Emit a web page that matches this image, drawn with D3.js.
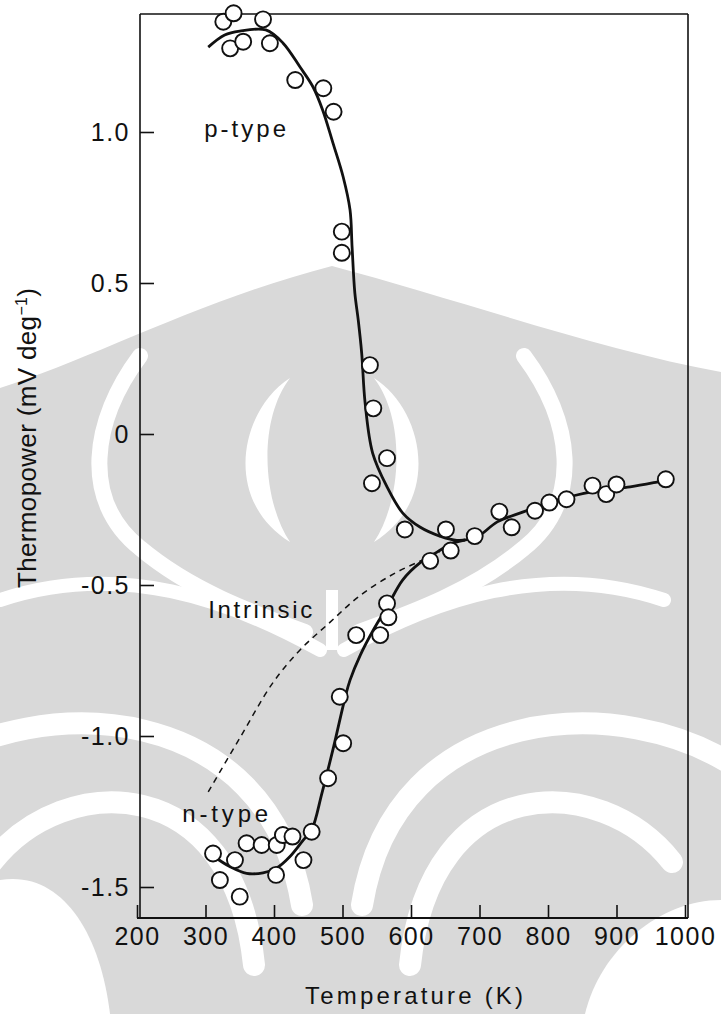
<!DOCTYPE html>
<html>
<head>
<meta charset="utf-8">
<script src="https://cdn.jsdelivr.net/npm/d3@7"></script>
<style>
  html, body { margin: 0; padding: 0; background: #fff; }
  svg { display: block; }
  text { font-family: "Liberation Sans", Arial, sans-serif; fill: #111; }
</style>
</head>
<body>
<svg id="chart" width="721" height="1014"></svg>
<script>
// Thermopower (mV/deg) against temperature (K): measured points and fitted curves.

// Open-circle measurements, [temperature K, thermopower mV/deg]
const pTypePoints = [
  [326, 1.365], [341, 1.393], [384, 1.373], [336, 1.277], [355, 1.299], [394, 1.294],
  [431, 1.172], [472, 1.145], [487, 1.067], [499, 0.670], [499, 0.600], [540, 0.228],
  [545, 0.085], [565, -0.080], [543, -0.163], [591, -0.316], [651, -0.316], [693, -0.338],
  [729, -0.257], [747, -0.309], [781, -0.254], [802, -0.227], [827, -0.216], [865, -0.171],
  [885, -0.199], [900, -0.167], [972, -0.150]
];
const nTypePoints = [
  [658, -0.386], [628, -0.420], [565, -0.561], [567, -0.607], [555, -0.666], [520, -0.666],
  [496, -0.870], [501, -1.024], [479, -1.140], [455, -1.317], [443, -1.411], [403, -1.460],
  [350, -1.532], [321, -1.477], [311, -1.389], [343, -1.411], [360, -1.355], [382, -1.361],
  [404, -1.361], [413, -1.328], [427, -1.333]
];

// Fitted curves
const pTypeFit = [
  [304, 1.281], [328, 1.321], [350, 1.334], [388, 1.338], [413, 1.295], [438, 1.215],
  [457, 1.149], [471, 1.073], [486, 0.964], [501, 0.851], [511, 0.742], [514, 0.619],
  [518, 0.467], [523, 0.377], [528, 0.268], [533, 0.103], [544, -0.063], [565, -0.175],
  [588, -0.262], [613, -0.308], [642, -0.338], [667, -0.352], [696, -0.341], [726, -0.291],
  [764, -0.258], [799, -0.228], [842, -0.202], [880, -0.185], [920, -0.175], [959, -0.159],
  [974, -0.152]
];
const nTypeFit = [
  [309, -1.394], [336, -1.433], [360, -1.455], [384, -1.453], [404, -1.437], [423, -1.400],
  [443, -1.344], [455, -1.311], [470, -1.189], [487, -1.036], [504, -0.871], [511, -0.815],
  [526, -0.732], [545, -0.649], [565, -0.573], [588, -0.483], [613, -0.427], [638, -0.391],
  [661, -0.361], [679, -0.351]
];
const intrinsicFit = [
  [304, -1.185], [350, -1.007], [398, -0.825], [438, -0.715], [482, -0.623],
  [525, -0.536], [574, -0.464], [613, -0.421], [642, -0.391]
];

// Axis ticks
const xTicks = [200, 300, 400, 500, 600, 700, 800, 900, 1000];
const yTicks = [1.0, 0.5, 0, -0.5, -1.0, -1.5];
const yTickLabels = ["1.0", "0.5", "0", "-0.5", "-1.0", "-1.5"];

const svg = d3.select("#chart");
const W = 721, H = 1014;

// Faint grey emblem printed behind the figure
function drawBackdrop(g) {
  const grey = "#d9d9d9";
  const cx = 332;                       // emblem axis of symmetry
  const mirror = s => s.replace(/(-?\d+(?:\.\d+)?),(-?\d+(?:\.\d+)?)/g,
    (m, a, b) => `${2 * cx - (+a)},${b}`);

  // dome-shaped grey body reaching the bottom edge
  g.append("path")
    .attr("d", `M0,388 C90,360 200,300 ${cx},266 C460,300 600,350 ${W},372 L${W},${H} L0,${H} Z`)
    .attr("fill", grey);

  const band = (d, w) => g.append("path").attr("d", d).attr("fill", "none")
    .attr("stroke", "#fff").attr("stroke-width", w).attr("stroke-linecap", "round");

  // outer arcs of the upper body
  const outerArc = "M140,356 C92,420 80,500 140,548 C190,590 250,612 305,632";
  band(outerArc, 16);
  band(mirror(outerArc), 16);

  // inner crescents
  const crescent = "M290,378 C240,410 222,500 290,542 C262,500 258,420 290,378 Z";
  g.append("path").attr("d", crescent).attr("fill", "#fff");
  g.append("path").attr("d", mirror(crescent)).attr("fill", "#fff");

  // central slit
  g.append("rect").attr("x", cx - 6).attr("y", 590).attr("width", 12).attr("height", 60).attr("fill", "#fff");

  // lower arches on both sides
  const archA = "M362,905 C395,700 625,690 740,770";
  const archB = "M410,965 C430,770 600,770 672,862";
  const archC = "M0,600 C120,560 230,600 320,650";
  [archA, archB].forEach(a => { band(a, 22); band(mirror(a), 22); });
  band(archC, 14);
  band(mirror(archC), 14);

  // lower corners
  g.append("path").attr("d", `M0,880 C60,870 100,930 110,${H} L0,${H} Z`).attr("fill", "#fff");
  g.append("path").attr("d", `M${W},900 C660,900 600,950 585,${H} L${W},${H} Z`).attr("fill", "#fff");
}
drawBackdrop(svg.append("g").attr("class", "backdrop"));

const x = d3.scaleLinear().domain([200, 1000]).range([137, 685]);
const y = d3.scaleLinear().domain([1.0, -1.5]).range([132, 887]);

const frame = { left: 140, right: 688, top: 14, bottom: 918 };

// Frame
const fg = svg.append("g").attr("stroke", "#111").attr("stroke-width", 1.6).attr("fill", "none");
fg.append("line").attr("x1", frame.left).attr("x2", frame.right).attr("y1", frame.top).attr("y2", frame.top);
fg.append("line").attr("x1", frame.right).attr("x2", frame.right).attr("y1", frame.top).attr("y2", frame.bottom);
fg.append("line").attr("x1", frame.left).attr("x2", frame.left).attr("y1", frame.top).attr("y2", frame.bottom);
fg.append("line").attr("x1", x(200)).attr("x2", frame.right).attr("y1", frame.bottom).attr("y2", frame.bottom)
  .attr("stroke-width", 2.2);

// Axes with inward ticks
const yAxis = d3.axisLeft(y)
  .tickValues(yTicks)
  .tickFormat((d, i) => yTickLabels[i])
  .tickSizeInner(-14).tickSizeOuter(0).tickPadding(10);
const gy = svg.append("g").attr("transform", `translate(${frame.left},0)`).call(yAxis);
gy.select(".domain").remove();
gy.selectAll(".tick line").attr("stroke", "#111").attr("stroke-width", 1.6);
gy.selectAll(".tick text").attr("font-size", 25).attr("letter-spacing", 1.5)
  .attr("font-family", "Liberation Sans, Arial, sans-serif").attr("fill", "#111");

const xAxis = d3.axisBottom(x)
  .tickValues(xTicks)
  .tickFormat(d3.format("d"))
  .tickSizeInner(-13).tickSizeOuter(0).tickPadding(9);
const gx = svg.append("g").attr("transform", `translate(0,${frame.bottom})`).call(xAxis);
gx.select(".domain").remove();
gx.selectAll(".tick line").attr("stroke", "#111").attr("stroke-width", 1.6);
gx.selectAll(".tick text").attr("font-size", 25).attr("letter-spacing", 1.5)
  .attr("font-family", "Liberation Sans, Arial, sans-serif").attr("fill", "#111");

// Axis titles
svg.append("text")
  .attr("x", 414).attr("y", 1004)
  .attr("text-anchor", "middle")
  .attr("font-size", 24)
  .attr("textLength", 218).attr("lengthAdjust", "spacing")
  .text("Temperature (K)");

const yTitle = svg.append("text")
  .attr("transform", "translate(36,438) rotate(-90)")
  .attr("text-anchor", "middle")
  .attr("font-size", 26)
  .attr("textLength", 300).attr("lengthAdjust", "spacing");
yTitle.append("tspan").text("Thermopower (mV deg");
yTitle.append("tspan").attr("dy", -9).attr("font-size", 16).text("\u22121");
yTitle.append("tspan").attr("dy", 9).text(")");

// Curves
const line = d3.line()
  .x(d => x(d[0]))
  .y(d => y(d[1]))
  .curve(d3.curveCatmullRom.alpha(0.5));

svg.append("path").datum(intrinsicFit)
  .attr("d", line).attr("fill", "none")
  .attr("stroke", "#111").attr("stroke-width", 1.5)
  .attr("stroke-dasharray", "6,5");

svg.append("path").datum(pTypeFit)
  .attr("d", line).attr("fill", "none")
  .attr("stroke", "#111").attr("stroke-width", 2.8);

svg.append("path").datum(nTypeFit)
  .attr("d", line).attr("fill", "none")
  .attr("stroke", "#111").attr("stroke-width", 2.8);

// Measurement circles
svg.append("g").selectAll("circle")
  .data(pTypePoints.concat(nTypePoints))
  .join("circle")
  .attr("cx", d => x(d[0]))
  .attr("cy", d => y(d[1]))
  .attr("r", 8)
  .attr("fill", "#fff")
  .attr("stroke", "#111")
  .attr("stroke-width", 1.9);

// Curve annotations
svg.append("text").attr("x", x(298)).attr("y", y(1.0) + 5)
  .attr("font-size", 24).attr("textLength", 82).attr("lengthAdjust", "spacing")
  .text("p-type");
svg.append("text").attr("x", x(304)).attr("y", y(-0.61))
  .attr("font-size", 24).attr("textLength", 104).attr("lengthAdjust", "spacing")
  .text("Intrinsic");
svg.append("text").attr("x", x(266)).attr("y", y(-1.285))
  .attr("font-size", 24).attr("textLength", 86).attr("lengthAdjust", "spacing")
  .text("n-type");
</script>
</body>
</html>
